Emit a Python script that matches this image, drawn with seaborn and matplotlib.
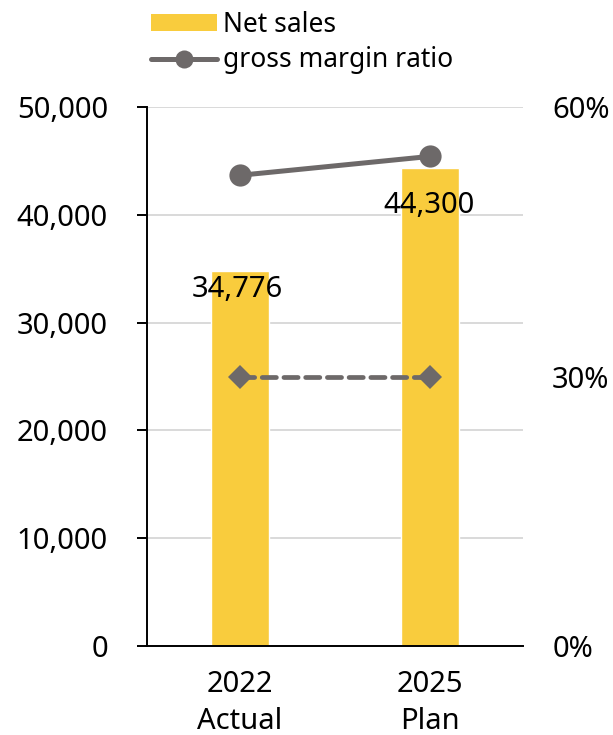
import matplotlib
matplotlib.use("Agg")
import matplotlib.pyplot as plt
import seaborn as sns
import pandas as pd
from matplotlib.lines import Line2D
from matplotlib.patches import Patch

# Data
categories = ["2022\nActual", "2025\nPlan"]
net_sales = [34776, 44300]
gross_margin_ratio = [52.4, 54.5]   # percent
reference_ratio = [30.0, 30.0]      # percent, dashed series
left_ticks = [0, 10000, 20000, 30000, 40000, 50000]
right_ticks = [0, 30, 60]

BAR = "#F9CC3D"
LINE = "#6D6969"
GRID = "#D9D9D9"
FS = 21

sns.set_theme(style="white")
plt.rcParams["font.family"] = ["Noto Sans", "DejaVu Sans"]
plt.rcParams["text.color"] = "black"
plt.rcParams["xtick.color"] = "black"
plt.rcParams["ytick.color"] = "black"

fig = plt.figure(figsize=(6.13, 7.35), dpi=100)
ax = fig.add_axes([147 / 613, 1 - 646 / 735, (523 - 147) / 613, (646 - 107) / 735])

df = pd.DataFrame({"cat": categories, "sales": net_sales})
sns.barplot(data=df, x="cat", y="sales", color=BAR, saturation=1, width=0.31, ax=ax, zorder=2)

ax.set_xlim(-0.49, 1.49)
ax.set_ylim(0, 50000)
ax.set_yticks(left_ticks)
ax.set_yticklabels([f"{v:,}" for v in left_ticks], fontsize=FS)
ax.set_xlabel("")
ax.set_ylabel("")
ax.tick_params(axis="y", length=7.2, width=1.4, color="black", labelcolor="black",
               pad=21, direction="out", left=True)
ax.tick_params(axis="x", length=0, pad=17, labelsize=FS, labelcolor="black")
for lab in ax.get_xticklabels():
    lab.set_linespacing(1.36)
ax.yaxis.grid(True, color=GRID, linewidth=1.4, zorder=0)
ax.set_axisbelow(True)
for s in ["top", "right"]:
    ax.spines[s].set_visible(False)
for s in ["left", "bottom"]:
    ax.spines[s].set_color("black")
    ax.spines[s].set_linewidth(1.4)

# Data labels on bars
label_offsets = [(-2, -13), (-1, -27)]
for i, v in enumerate(net_sales):
    ax.annotate(f"{v:,}", xy=(i, v), xytext=label_offsets[i], textcoords="offset points",
                ha="center", va="center", fontsize=FS, color="black", zorder=5)

# Secondary axis for ratios
ax2 = ax.twinx()
xpos = list(range(len(categories)))
sns.lineplot(x=xpos, y=gross_margin_ratio, ax=ax2, color=LINE, linewidth=3.6,
             marker="o", markersize=16, markeredgewidth=0, sort=False, zorder=4)
sns.lineplot(x=xpos, y=reference_ratio, ax=ax2, color=LINE, linewidth=3.4,
             linestyle=(0, (3.0, 1.6)), dash_capstyle="round", marker="D",
             markersize=12, markeredgewidth=0, sort=False, zorder=4)
ax2.set_ylim(0, 60)
ax2.set_xlim(-0.49, 1.49)
ax2.set_yticks(right_ticks)
ax2.set_yticklabels([f"{v}%" for v in right_ticks], fontsize=FS)
ax2.tick_params(axis="y", length=0, pad=21, labelcolor="black")
ax2.set_ylabel("")
for s in ["top", "right", "left", "bottom"]:
    ax2.spines[s].set_visible(False)
ax2.grid(False)

# Legend
handles = [
    Patch(facecolor=BAR, edgecolor="none"),
    Line2D([0], [0], color=LINE, linewidth=3.6, marker="o", markersize=13, markeredgewidth=0),
]
fig.legend(handles, ["Net sales", "gross margin ratio"], loc="upper left",
           bbox_to_anchor=(140 / 613, 1 - 0 / 735), frameon=False, fontsize=19,
           handlelength=2.5, handleheight=0.6, handletextpad=0.25, labelspacing=0.3,
           borderaxespad=0)

fig.savefig("out.png", dpi=100)
